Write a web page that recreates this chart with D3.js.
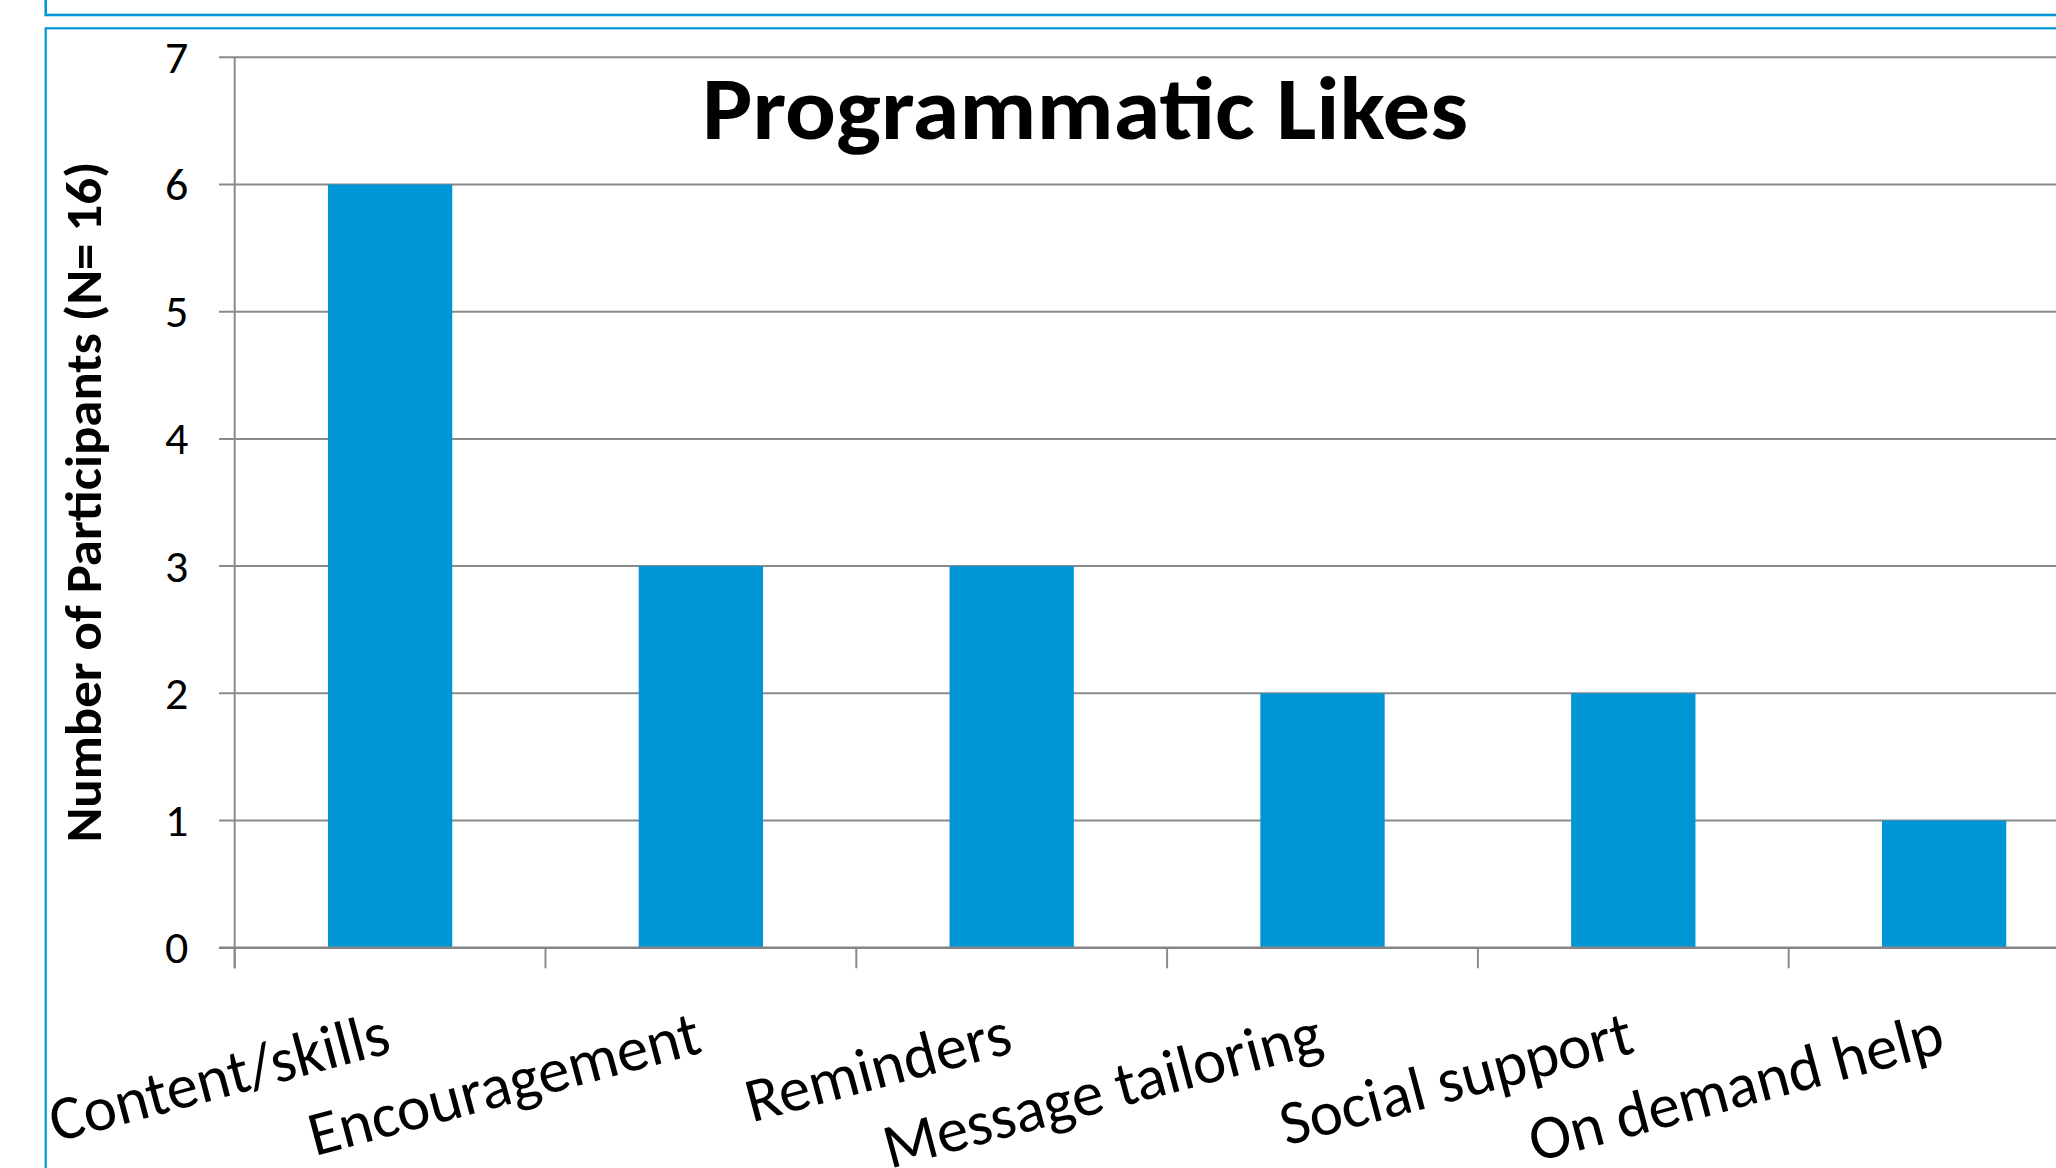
<!DOCTYPE html>
<html><head><meta charset="utf-8">
<script src="https://cdn.jsdelivr.net/npm/d3@7"></script>
<style>html,body{margin:0;padding:0;background:#fff;overflow:hidden}</style>
</head><body>
<svg id="chart" width="2056" height="1168"></svg>
<script>
// ---- data ----
const categories = ["Content/skills", "Encouragement", "Reminders", "Message tailoring", "Social support", "On demand help"];
const values = [6, 3, 3, 2, 2, 1];
const yTicks = [0, 1, 2, 3, 4, 5, 6, 7];
const chartTitle = "Programmatic Likes";
const yAxisTitle = "Number of Participants (N= 16)";

// ---- setup ----
const svg = d3.select("#chart");
const FONT = "Calibri, Carlito, Lato, sans-serif";
const BLUE = "#0096D6", GRID = "#8a8a8a";

// outer frames (slide boxes)
svg.append("rect").attr("x", 45.7).attr("y", -20).attr("width", 2100).attr("height", 35)
  .attr("fill", "none").attr("stroke", BLUE).attr("stroke-width", 2.6);
svg.append("rect").attr("x", 45.7).attr("y", 28.3).attr("width", 2100).attr("height", 1300)
  .attr("fill", "#fff").attr("stroke", BLUE).attr("stroke-width", 2.2);

const x0 = 234.7, step = 310.8;
const x = d3.scaleBand().domain(categories)
  .range([x0, x0 + step * categories.length])
  .paddingInner(0.6).paddingOuter(0.3);
const y = d3.scaleLinear().domain([0, 7]).range([947.7, 57.3]);
const xEnd = x.range()[1];

// gridlines + left ticks
svg.append("g").selectAll("line").data(yTicks.filter(d => d > 0)).join("line")
  .attr("x1", x0 - 15.7).attr("x2", xEnd)
  .attr("y1", d => y(d)).attr("y2", d => y(d))
  .attr("stroke", GRID).attr("stroke-width", 2);

// bars
svg.append("g").selectAll("rect").data(categories).join("rect")
  .attr("x", d => x(d)).attr("width", x.bandwidth())
  .attr("y", (d, i) => y(values[i])).attr("height", (d, i) => y(0) - y(values[i]))
  .attr("fill", BLUE);

// category boundary ticks
const bounds = categories.map(c => x(c) - (x.step() - x.bandwidth()) / 2).concat([xEnd]);
svg.append("g").selectAll("line").data(bounds).join("line")
  .attr("x1", d => d).attr("x2", d => d)
  .attr("y1", y(0)).attr("y2", y(0) + 20.6)
  .attr("stroke", GRID).attr("stroke-width", 2);

// y axis line
svg.append("line").attr("x1", x0).attr("x2", x0).attr("y1", y(7)).attr("y2", y(0) + 20.6)
  .attr("stroke", GRID).attr("stroke-width", 2);
// x axis line
svg.append("line").attr("x1", x0 - 15.7).attr("x2", xEnd).attr("y1", y(0)).attr("y2", y(0))
  .attr("stroke", "#858585").attr("stroke-width", 2.4);

// y tick labels
svg.append("g").selectAll("text").data(yTicks).join("text")
  .attr("x", 188.3).attr("y", d => y(d) + 15.5)
  .attr("text-anchor", "end")
  .style("font-family", FONT).style("font-size", "46px").attr("fill", "#000")
  .text(d => d);

// x labels
svg.append("g").selectAll("text").data(categories).join("text")
  .attr("text-anchor", "end")
  .attr("transform", d => `translate(${x(d) + x.bandwidth() / 2 + 3},1052) rotate(-15)`)
  .style("font-family", FONT).style("font-size", "63px").attr("fill", "#000")
  .text(d => d);

// y axis title
svg.append("text")
  .attr("transform", "translate(100.7,502) rotate(-90)")
  .attr("text-anchor", "middle")
  .attr("textLength", 681).attr("lengthAdjust", "spacingAndGlyphs")
  .style("font-family", FONT).style("font-size", "51px").style("font-weight", "bold")
  .text(yAxisTitle);

// chart title
svg.append("text")
  .attr("x", 1085).attr("y", 138.5)
  .attr("text-anchor", "middle")
  .attr("textLength", 766).attr("lengthAdjust", "spacingAndGlyphs")
  .style("font-family", FONT).style("font-size", "89px").style("font-weight", "bold")
  .text(chartTitle);
</script>
</body></html>
